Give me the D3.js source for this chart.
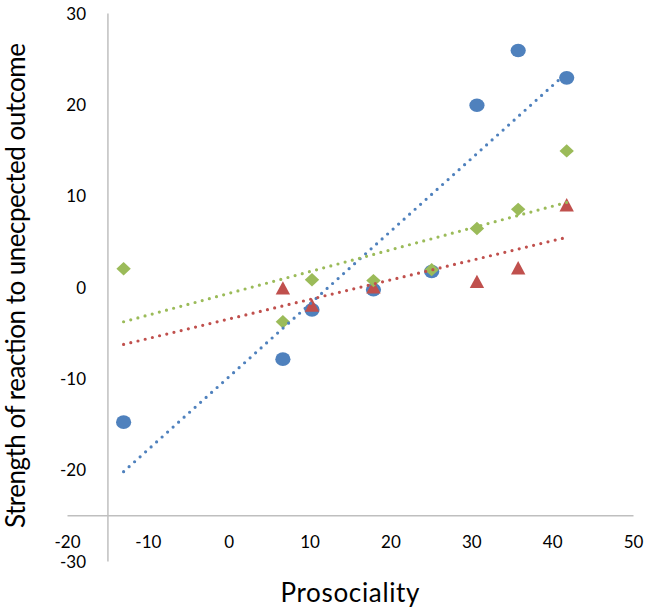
<!DOCTYPE html>
<html>
<head>
<meta charset="utf-8">
<script src="https://cdn.jsdelivr.net/npm/d3@7"></script>
<style>
  html, body { margin: 0; padding: 0; background: #fff; }
  svg text { font-family: Lato, "Open Sans", sans-serif; fill: #000; }
</style>
</head>
<body>
<svg id="chart" width="646" height="611"></svg>
<script>
// ---- data ----
const xValues = [-13, 6.7, 10.3, 17.9, 25.1, 30.7, 35.8, 41.8];
const blueValues = [-14.8, -7.9, -2.5, -0.3, 1.7, 19.9, 25.9, 22.9];
const redValues = [null, -0.1, -2.0, 0.0, null, 0.6, 2.1, 9.0];
const greenValues = [2.0, -3.8, 0.8, 0.7, 1.9, 6.4, 8.5, 14.9];
const xTicks = [-20, -10, 0, 10, 20, 30, 40, 50];
const yTicks = [-30, -20, -10, 0, 10, 20, 30];
const xTitle = "Prosociality";
const yTitle = "Strength of reaction to unecpected outcome";

const series = [
  { name: "blue", values: blueValues, color: "#4F81BD", shape: "circle" },
  { name: "red", values: redValues, color: "#C0504D", shape: "triangle" },
  { name: "green", values: greenValues, color: "#9BBB59", shape: "diamond" }
];

const svg = d3.select("#chart");
const x = d3.scaleLinear().domain([-20, 50]).range([67, 633]);
const y = d3.scaleLinear().domain([-30, 30]).range([561, 13]);
const xCross = -15, yCross = -25;
const axisColor = "#BFBFBF";
const fmt = d => String(d); // plain hyphen-minus like the original

// x axis
const gx = svg.append("g").attr("transform", `translate(0,${y(yCross)})`)
  .call(d3.axisBottom(x).tickValues(xTicks).tickSize(0).tickPadding(0).tickFormat(fmt));
gx.select(".domain").attr("stroke", axisColor).attr("stroke-width", 1.5);
gx.selectAll("text").attr("font-size", 17).attr("y", 0).attr("dy", 0)
  .attr("transform", `translate(0,${548 - y(yCross)})`);

// y axis
const gy = svg.append("g").attr("transform", `translate(${x(xCross)},0)`)
  .call(d3.axisLeft(y).tickValues(yTicks).tickSize(0).tickPadding(0).tickFormat(fmt));
gy.select(".domain").attr("stroke", axisColor).attr("stroke-width", 1.5);
gy.selectAll("text").attr("font-size", 17).attr("dy", "0.36em")
  .attr("x", 86 - x(xCross)).attr("text-anchor", "end");

// markers
const markerPath = {
  circle: null,
  triangle: "M0,-6.7L7.2,6.6L-7.2,6.6Z",
  diamond: "M0,-6.7L7.2,0L0,6.7L-7.2,0Z"
};
series.forEach(s => {
  const pts = xValues.map((xv, i) => ({ x: xv, y: s.values[i] })).filter(d => d.y !== null);
  const g = svg.append("g");
  if (s.shape === "circle") {
    g.selectAll("ellipse").data(pts).join("ellipse")
      .attr("cx", d => x(d.x)).attr("cy", d => y(d.y))
      .attr("rx", 7.6).attr("ry", 6.8).attr("fill", s.color);
  } else {
    g.selectAll("path").data(pts).join("path")
      .attr("transform", d => `translate(${x(d.x)},${y(d.y)})`)
      .attr("d", markerPath[s.shape]).attr("fill", s.color);
  }
});

// linear trendlines (least squares), spanning the x range
const xMin = d3.min(xValues), xMax = d3.max(xValues);
series.forEach(s => {
  const pts = xValues.map((xv, i) => [xv, s.values[i]]).filter(d => d[1] !== null);
  const mx = d3.mean(pts, d => d[0]), my = d3.mean(pts, d => d[1]);
  const sxy = d3.sum(pts, d => (d[0] - mx) * (d[1] - my));
  const sxx = d3.sum(pts, d => (d[0] - mx) ** 2);
  const slope = sxy / sxx, icpt = my - slope * mx;
  svg.append("line")
    .attr("x1", x(xMin)).attr("y1", y(icpt + slope * xMin))
    .attr("x2", x(xMax)).attr("y2", y(icpt + slope * xMax))
    .attr("stroke", s.color).attr("stroke-width", 3.2)
    .attr("stroke-linecap", "round").attr("stroke-dasharray", "0 7.4");
});

// titles
svg.append("text").attr("x", 350).attr("y", 602).attr("text-anchor", "middle")
  .attr("font-size", 26).attr("textLength", 139).attr("lengthAdjust", "spacing").text(xTitle);
svg.append("text").attr("transform", "translate(25,285.5) rotate(-90)").attr("text-anchor", "middle")
  .attr("font-size", 26).attr("textLength", 485).attr("lengthAdjust", "spacing").text(yTitle);
</script>
</body>
</html>
